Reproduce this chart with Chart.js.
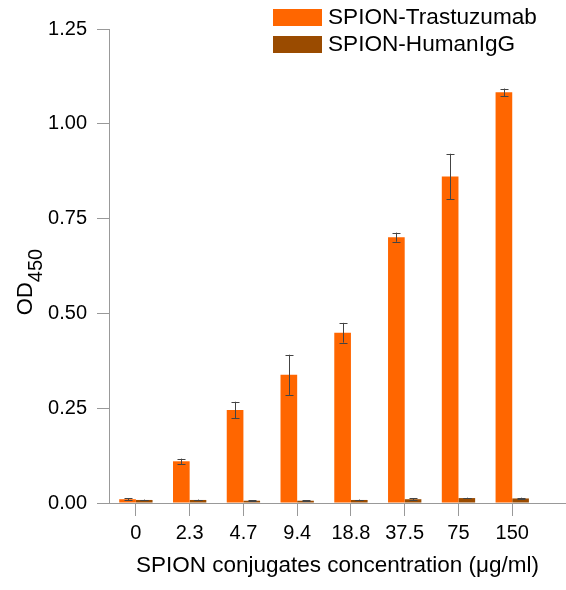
<!DOCTYPE html>
<html>
<head>
<meta charset="utf-8">
<script src="https://cdn.jsdelivr.net/npm/chart.js@4"></script>
<style>
  body { margin: 0; background: #fff; }
</style>
</head>
<body>
<canvas id="chart" width="566" height="590"></canvas>
<script>
const concentrations = ['0', '2.3', '4.7', '9.4', '18.8', '37.5', '75', '150'];
const trastuzumab = [0.010, 0.110, 0.245, 0.338, 0.449, 0.701, 0.861, 1.083];
const trastuzumabErr = [0.002, 0.007, 0.022, 0.053, 0.026, 0.012, 0.060, 0.010];
const humanIgG = [0.008, 0.008, 0.006, 0.006, 0.008, 0.010, 0.013, 0.012];
const humanIgGErr = [0.001, 0.001, 0.001, 0.001, 0.001, 0.002, 0.001, 0.002];
const yTicks = [0, 0.25, 0.5, 0.75, 1.0, 1.25];

const FONT = "'Liberation Sans', Arial, sans-serif";
const AXIS = '#999999';

function points(values) {
  return values.map((v, i) => ({x: i, y: v}));
}

// error bars drawn on top of each bar
let errorBars = {
  id: 'errorBars',
  afterDatasetsDraw(chart) {
    let ctx = chart.ctx;
    let yScale = chart.scales.y;
    ctx.save();
    ctx.strokeStyle = '#444';
    ctx.lineWidth = 1;
    chart.data.datasets.forEach((ds, di) => {
      let meta = chart.getDatasetMeta(di);
      meta.data.forEach((bar, i) => {
        let v = ds.data[i].y;
        let e = ds.errors[i];
        let top = yScale.getPixelForValue(v + e);
        let bot = yScale.getPixelForValue(v - e);
        let x = Math.round(bar.x) + 0.5;
        ctx.beginPath();
        ctx.moveTo(x, top);
        ctx.lineTo(x, bot);
        ctx.moveTo(x - 4, Math.round(top) + 0.5);
        ctx.lineTo(x + 4, Math.round(top) + 0.5);
        ctx.moveTo(x - 4, Math.round(bot) + 0.5);
        ctx.lineTo(x + 4, Math.round(bot) + 0.5);
        ctx.stroke();
      });
    });
    ctx.restore();
  }
};

// OD with subscript 450, rotated
let yTitle = {
  id: 'yTitle',
  afterDraw(chart) {
    let ctx = chart.ctx;
    ctx.save();
    ctx.fillStyle = '#000';
    ctx.textBaseline = 'alphabetic';
    ctx.font = '22px ' + FONT;
    let wMain = ctx.measureText('OD').width;
    ctx.font = '20px ' + FONT;
    let wSub = ctx.measureText('450').width;
    let start = -(wMain + wSub) / 2;
    ctx.translate(32, 282);
    ctx.rotate(-Math.PI / 2);
    ctx.font = '22px ' + FONT;
    ctx.fillText('OD', start, 0);
    ctx.font = '20px ' + FONT;
    ctx.fillText('450', start + wMain, 10);
    ctx.restore();
  }
};

// legend in the top right corner
let boxLegend = {
  id: 'boxLegend',
  afterDraw(chart) {
    let ctx = chart.ctx;
    ctx.save();
    ctx.font = '22.6px ' + FONT;
    ctx.textBaseline = 'middle';
    chart.data.datasets.forEach((ds, i) => {
      let y = 9 + i * 27;
      ctx.fillStyle = ds.backgroundColor;
      ctx.fillRect(273, y, 49, 17);
      ctx.fillStyle = '#000';
      ctx.fillText(ds.label, 328, y + 9);
    });
    ctx.restore();
  }
};

let chart = new Chart(document.getElementById('chart'), {
  type: 'bar',
  data: {
    datasets: [
      {
        label: 'SPION-Trastuzumab',
        data: points(trastuzumab),
        errors: trastuzumabErr,
        backgroundColor: '#ff6600'
      },
      {
        label: 'SPION-HumanIgG',
        data: points(humanIgG),
        errors: humanIgGErr,
        backgroundColor: '#9a4b00'
      }
    ]
  },
  options: {
    responsive: false,
    animation: false,
    categoryPercentage: 0.62,
    barPercentage: 1.0,
    layout: { padding: { top: 29, left: 0, right: 0, bottom: 0 } },
    plugins: {
      legend: { display: false },
      tooltip: { enabled: false }
    },
    scales: {
      x: {
        type: 'linear',
        min: -0.5,
        max: 8,
        offset: false,
        afterBuildTicks: s => { s.ticks = concentrations.map((_, i) => ({value: i})); },
        afterFit: s => { s.height = 87; },
        grid: { offset: false, drawOnChartArea: false, tickLength: 13, color: AXIS },
        border: { color: AXIS, width: 1 },
        ticks: {
          color: '#000',
          padding: 5,
          maxRotation: 0,
          autoSkip: false,
          font: { family: FONT, size: 20 },
          callback: v => concentrations[v]
        },
        title: {
          display: true,
          text: 'SPION conjugates concentration (\u03bcg/ml)',
          color: '#000',
          font: { family: FONT, size: 22.5, lineHeight: 1.76 }
        }
      },
      y: {
        min: 0,
        max: 1.25,
        afterBuildTicks: s => { s.ticks = yTicks.map(v => ({value: v})); },
        afterFit: s => { s.width = 109; },
        grid: { drawOnChartArea: false, tickLength: 12, color: AXIS },
        border: { color: AXIS, width: 1 },
        ticks: {
          color: '#000',
          padding: 10,
          font: { family: FONT, size: 20 },
          callback: v => v.toFixed(2)
        }
      }
    }
  },
  plugins: [errorBars, yTitle, boxLegend]
});
</script>
</body>
</html>
